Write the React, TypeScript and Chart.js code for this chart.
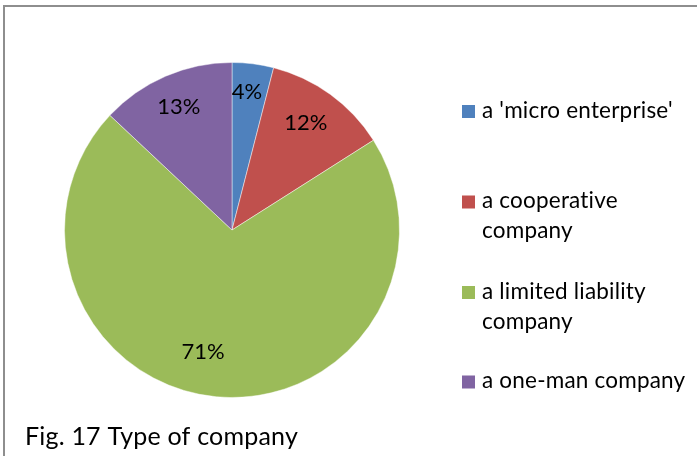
import { useEffect, useRef } from "react";
import { Chart, registerables } from "chart.js";

Chart.register(...registerables);

const categories: string[][] = [
  ["a 'micro enterprise'"],
  ["a cooperative", "company"],
  ["a limited liability", "company"],
  ["a one-man company"],
];
const shares = [4, 12, 71, 13];
const percentLabels = ["4%", "12%", "71%", "13%"];
const sliceColors = ["#4F81BD", "#C0504D", "#9BBB59", "#8064A2"];
const figureTitle = "Fig. 17 Type of company";

const FONT = "Lato, 'Open Sans', sans-serif";

const pieLabelPlugin = {
  id: "pieLabels",
  afterDatasetsDraw(chart: any, _args: any, opts: any) {
    const ctx = chart.ctx;
    const meta = chart.getDatasetMeta(0);
    ctx.save();
    ctx.font = `${opts.size}px ${FONT}`;
    ctx.fillStyle = "#000";
    ctx.textAlign = "center";
    ctx.textBaseline = "middle";
    meta.data.forEach((arc: any, i: number) => {
      const p = arc.getProps(["x", "y", "startAngle", "endAngle", "outerRadius"], true);
      const place = opts.placement[i] || { r: 0.8, da: 0 };
      const mid = (p.startAngle + p.endAngle) / 2 + (place.da * Math.PI) / 180;
      const r = p.outerRadius * place.r;
      ctx.fillText(percentLabels[i], p.x + Math.cos(mid) * r, p.y + Math.sin(mid) * r);
    });
    ctx.restore();
  },
};

const sideLegendPlugin = {
  id: "sideLegend",
  afterDraw(chart: any, _args: any, opts: any) {
    const ctx = chart.ctx;
    const labels = chart.data.labels as string[][];
    const colors = chart.data.datasets[0].backgroundColor as string[];
    ctx.save();
    try {
      (ctx as any).letterSpacing = "0.2px";
    } catch (e) {}
    ctx.font = `${opts.size}px ${FONT}`;
    ctx.textAlign = "left";
    ctx.textBaseline = "alphabetic";
    labels.forEach((lines, i) => {
      const yc = opts.itemY[i];
      ctx.fillStyle = colors[i];
      ctx.fillRect(opts.boxX, yc - opts.box / 2, opts.box, opts.box);
      ctx.fillStyle = "#000";
      lines.forEach((line, j) => {
        ctx.fillText(line, opts.textX, yc + j * opts.lineH + opts.baseShift);
      });
    });
    ctx.font = `${opts.titleSize}px ${FONT}`;
    ctx.fillStyle = "#000";
    ctx.fillText(figureTitle, opts.titleX, opts.titleY);
    ctx.restore();
  },
};

export default function App() {
  const ref = useRef<HTMLCanvasElement | null>(null);

  useEffect(() => {
    document.body.style.margin = "0";
    if (!ref.current) return;
    const chart = new Chart(ref.current, {
      type: "pie",
      data: {
        labels: categories as any,
        datasets: [
          {
            data: shares,
            backgroundColor: sliceColors,
            borderColor: "rgba(255,255,255,0.45)",
            borderWidth: 1,
          },
        ],
      },
      options: {
        animation: false,
        responsive: false,
        layout: { padding: { left: 64, right: 297, top: 62, bottom: 58 } },
        plugins: {
          legend: { display: false },
          tooltip: { enabled: false },
          pieLabels: {
            size: 22,
            placement: [
              { r: 0.83, da: -1 },
              { r: 0.775, da: -1.3 },
              { r: 0.746, da: 8 },
              { r: 0.8, da: 0 },
            ],
          },
          sideLegend: {
            size: 22.5,
            box: 13,
            boxX: 462,
            textX: 482,
            itemY: [111.5, 202, 292.5, 382],
            lineH: 30,
            baseShift: 6,
            titleSize: 25,
            titleX: 25,
            titleY: 445,
          },
        } as any,
      },
      plugins: [pieLabelPlugin, sideLegendPlugin],
    });
    return () => chart.destroy();
  }, []);

  return (
    <div style={{ position: "relative", width: 697, height: 456, overflow: "hidden", background: "#fff" }}>
      <div
        style={{
          position: "absolute",
          left: 3,
          top: 5,
          width: 900,
          height: 700,
          borderTop: "2px solid #8e8e8e",
          borderLeft: "2px solid #8e8e8e",
        }}
      />
      <canvas ref={ref} width={697} height={456} style={{ position: "absolute", left: 0, top: 0 }} />
    </div>
  );
}
